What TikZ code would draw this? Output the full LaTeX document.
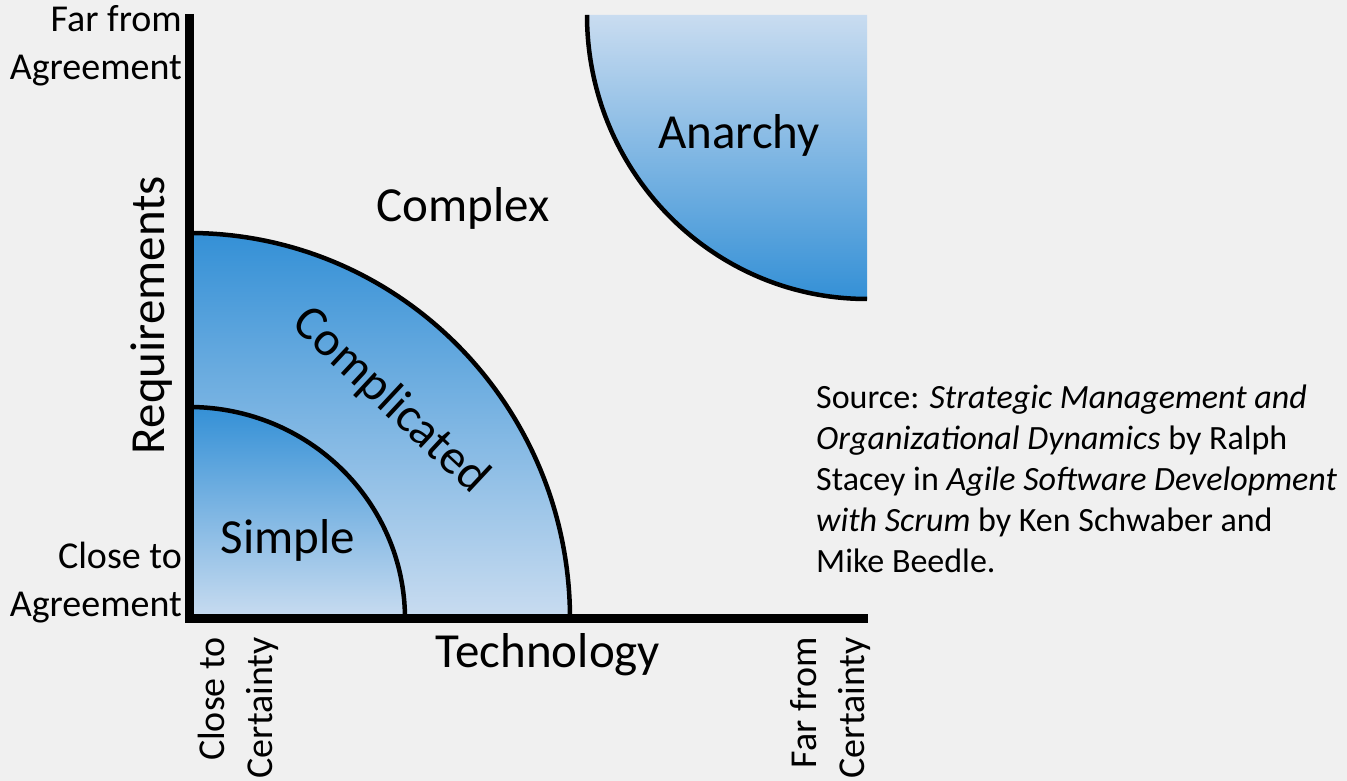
\documentclass[tikz,border=0pt]{standalone}
\usepackage{fontspec}
\setmainfont{Carlito}
\definecolor{bgc}{HTML}{F0F0F0}
\definecolor{bdark}{HTML}{3490D6}
\definecolor{blight}{HTML}{C9DCF0}
\begin{document}
\begin{tikzpicture}[x=1pt,y=1pt,
  small/.style={font=\fontsize{38}{48}\selectfont, inner sep=0pt},
  big/.style={font=\fontsize{49}{58}\selectfont, inner sep=0pt},
  srcstyle/.style={font=\fontsize{34}{41}\selectfont, inner sep=0pt, align=left},
  arcline/.style={draw=black, line width=4.5pt},
  axisline/.style={draw=black, line width=9pt, line join=miter}]
\fill[bgc] (0,0) rectangle (1347,781);
\useasboundingbox (0,0) rectangle (1347,781);
\coordinate (O) at (189,162);
% Complicated region
\shade[top color=bdark, bottom color=blight] (189,548) arc[start angle=90, end angle=0, x radius=381, y radius=386] -- (O) -- cycle;
\draw[arcline] (189,548) arc[start angle=90, end angle=0, x radius=381, y radius=386];
% Simple region
\shade[top color=bdark, bottom color=blight] (189,374) arc[start angle=90, end angle=0, x radius=216, y radius=212] -- (O) -- cycle;
\draw[arcline] (189,374) arc[start angle=90, end angle=0, x radius=216, y radius=212];
% Anarchy region
\coordinate (A) at (867,766);
\shade[top color=blight, bottom color=bdark] (587,766) arc[start angle=180, end angle=270, x radius=280, y radius=284] -- (A) -- cycle;
\draw[arcline] (587,766) arc[start angle=180, end angle=270, x radius=280, y radius=284];
% Axes
\coordinate (ytop) at (189,767);
\coordinate (xend) at (868,162);
\draw[axisline] (ytop) -- (O) -- (xend);
% Labels
\node[small, anchor=east, align=right] (farag) at (182,735) {Far from\\Agreement};
\node[small, anchor=east, align=right] (closeag) at (182,198) {Close to\\Agreement};
\node[big, rotate=90] (req) at (152,466) {Requirements};
\node[big] (cx) at (463,573) {Complex};
\node[big] (an) at (739,646) {Anarchy};
\node[big] (si) at (288,241) {Simple};
\node[big, rotate=-43] (cp) at (390,380) {Complicated};
\node[big] (tech) at (548,126) {Technology};
\node[small, rotate=90, anchor=east, align=right] (closecert) at (238,144) {Close to\\Certainty};
\node[small, rotate=90, anchor=east, align=right] (farcert) at (831,144) {Far from\\Certainty};
\node[srcstyle, anchor=west] (src) at (816,302) {Source: \textit{Strategic Management and}\\\textit{Organizational Dynamics} by Ralph\\Stacey in \textit{Agile Software Development}\\\textit{with Scrum} by Ken Schwaber and\\Mike Beedle.};
\end{tikzpicture}
\end{document}
